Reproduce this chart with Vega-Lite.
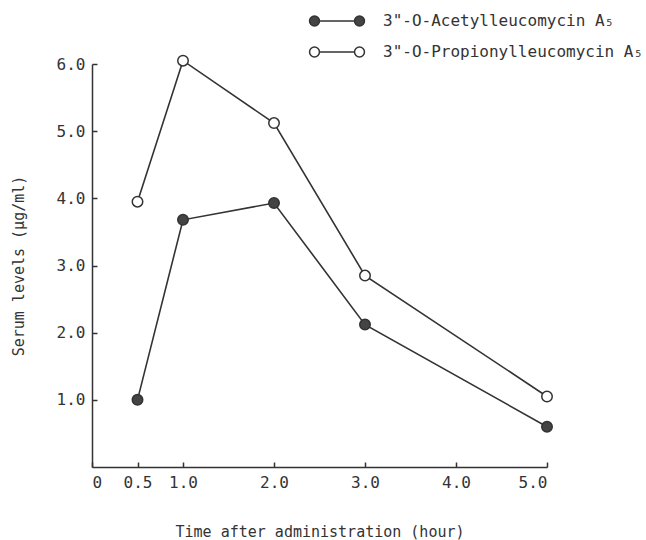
{
  "$schema": "https://vega.github.io/schema/vega-lite/v6.json",
  "autosize": "none",
  "width": 455,
  "height": 403,
  "padding": {"left": 92, "top": 64, "right": 99, "bottom": 73},
  "background": "white",
  "config": {
    "view": {"stroke": null},
    "font": "DejaVu Sans Mono",
    "axis": {
      "domainColor": "#333",
      "domainWidth": 1.5,
      "tickColor": "#333",
      "tickWidth": 1.5,
      "grid": false,
      "labelFont": "DejaVu Sans Mono",
      "labelFontSize": 16,
      "labelColor": "#333",
      "titleFont": "DejaVu Sans Mono",
      "titleFontSize": 15,
      "titleFontWeight": "normal",
      "titleColor": "#333"
    }
  },
  "data": {
    "values": [
      {"time": 0.5, "level": 1.0, "compound": "3\"-O-Acetylleucomycin A₅"},
      {"time": 1.0, "level": 3.68, "compound": "3\"-O-Acetylleucomycin A₅"},
      {"time": 2.0, "level": 3.93, "compound": "3\"-O-Acetylleucomycin A₅"},
      {"time": 3.0, "level": 2.12, "compound": "3\"-O-Acetylleucomycin A₅"},
      {"time": 5.0, "level": 0.6, "compound": "3\"-O-Acetylleucomycin A₅"},
      {"time": 0.5, "level": 3.95, "compound": "3\"-O-Propionylleucomycin A₅"},
      {"time": 1.0, "level": 6.05, "compound": "3\"-O-Propionylleucomycin A₅"},
      {"time": 2.0, "level": 5.12, "compound": "3\"-O-Propionylleucomycin A₅"},
      {"time": 3.0, "level": 2.85, "compound": "3\"-O-Propionylleucomycin A₅"},
      {"time": 5.0, "level": 1.05, "compound": "3\"-O-Propionylleucomycin A₅"}
    ]
  },
  "encoding": {
    "x": {
      "field": "time",
      "type": "quantitative",
      "scale": {"domain": [0, 5], "nice": false, "zero": false},
      "axis": {
        "title": "Time after administration (hour)",
        "values": [0, 0.5, 1, 2, 3, 4, 5],
        "labelExpr": "datum.value == 0 ? '0' : format(datum.value, '.1f')",
        "tickSize": -5,
        "labelPadding": 12,
        "titlePadding": 34
      }
    },
    "y": {
      "field": "level",
      "type": "quantitative",
      "scale": {"domain": [0, 6], "nice": false},
      "axis": {
        "title": "Serum levels (µg/ml)",
        "values": [1, 2, 3, 4, 5, 6],
        "format": ".1f",
        "tickSize": -5,
        "labelPadding": 12,
        "titlePadding": 30
      }
    }
  },
  "layer": [
    {
      "mark": {"type": "line", "color": "#333", "strokeWidth": 1.6, "clip": false},
      "encoding": {"detail": {"field": "compound"}}
    },
    {
      "mark": {"type": "point", "filled": true, "size": 110, "stroke": "#333", "strokeWidth": 1.5, "opacity": 1, "clip": false},
      "encoding": {
        "fill": {
          "field": "compound",
          "type": "nominal",
          "scale": {
            "domain": ["3\"-O-Acetylleucomycin A₅", "3\"-O-Propionylleucomycin A₅"],
            "range": ["#444", "white"]
          },
          "legend": {
            "title": null,
            "orient": "none",
            "legendX": 229,
            "legendY": -59,
            "symbolType": "M-1.83,0 a0.33,0.33 0 1,0 0.66,0 a0.33,0.33 0 1,0 -0.66,0 M-1.17,0 L1.17,0 M1.17,0 a0.33,0.33 0 1,0 0.66,0 a0.33,0.33 0 1,0 -0.66,0",
            "symbolSize": 900,
            "symbolStrokeColor": "#333",
            "symbolStrokeWidth": 1.5,
            "symbolOpacity": 1,
            "labelFont": "DejaVu Sans Mono",
            "labelFontSize": 16,
            "labelColor": "#333",
            "labelOffset": 30,
            "labelLimit": 400,
            "rowPadding": 7
          }
        }
      }
    }
  ]
}
